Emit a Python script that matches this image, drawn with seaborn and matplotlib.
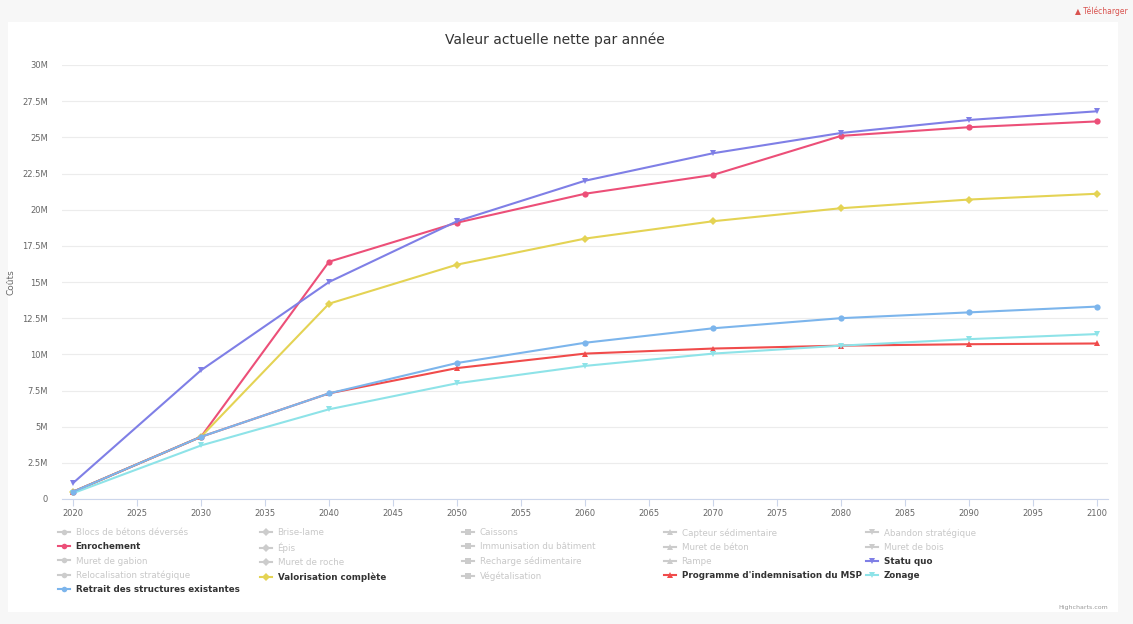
import pandas as pd
import matplotlib
matplotlib.use("Agg")
import matplotlib.pyplot as plt
import seaborn as sns
from matplotlib.lines import Line2D
from matplotlib.patches import Rectangle
from matplotlib.ticker import FuncFormatter, MultipleLocator

# Data (values in millions)
years = [2020, 2030, 2040, 2050, 2060, 2070, 2080, 2090, 2100]
enrochement = [0.5, 4.3, 16.4, 19.1, 21.1, 22.4, 25.1, 25.7, 26.1]
statu_quo = [1.1, 8.9, 15.0, 19.2, 22.0, 23.9, 25.3, 26.2, 26.8]
valorisation = [0.5, 4.3, 13.5, 16.2, 18.0, 19.2, 20.1, 20.7, 21.1]
programme_msp = [0.5, 4.3, 7.3, 9.05, 10.05, 10.4, 10.6, 10.7, 10.75]
zonage = [0.4, 3.7, 6.2, 8.0, 9.2, 10.05, 10.6, 11.05, 11.4]
retrait = [0.5, 4.3, 7.3, 9.4, 10.8, 11.8, 12.5, 12.9, 13.3]

# all legend entries, in Highcharts order (row by row, 5 columns)
legend_names = [
    "Blocs de bétons déversés", "Brise-lame", "Caissons", "Capteur sédimentaire", "Abandon stratégique",
    "Enrochement", "Épis", "Immunisation du bâtiment", "Muret de béton", "Muret de bois",
    "Muret de gabion", "Muret de roche", "Recharge sédimentaire", "Rampe", "Statu quo",
    "Relocalisation stratégique", "Valorisation complète", "Végétalisation",
    "Programme d'indemnisation du MSP", "Zonage",
    "Retrait des structures existantes",
]
visible = {
    "Enrochement": enrochement,
    "Statu quo": statu_quo,
    "Valorisation complète": valorisation,
    "Programme d'indemnisation du MSP": programme_msp,
    "Zonage": zonage,
    "Retrait des structures existantes": retrait,
}

hc_colors = ["#7cb5ec", "#434348", "#90ed7d", "#f7a35c", "#7f7fe6",
             "#ec4f78", "#e4d354", "#2b908f", "#f04b4b", "#8ee3e8"]
hc_markers = ["o", "D", "s", "^", "v"]

rows = []
for name, vals in visible.items():
    for y, v in zip(years, vals):
        rows.append({"Année": y, "Coûts": v, "Scénario": name})
df = pd.DataFrame(rows)

palette = {n: hc_colors[i % 10] for i, n in enumerate(legend_names) if n in visible}
markers = {n: hc_markers[i % 5] for i, n in enumerate(legend_names) if n in visible}

W, H = 1133, 624
fig = plt.figure(figsize=(W / 100, H / 100), dpi=100, facecolor="#f7f7f7")
fig.patches.append(Rectangle((8 / W, 1 - 612 / H), 1110 / W, 590 / H,
                             transform=fig.transFigure, facecolor="white",
                             edgecolor="none", zorder=-10))

ax = fig.add_axes([62 / W, 1 - 499 / H, 1046 / W, 434 / H])
ax.set_facecolor("white")

sns.lineplot(data=df, x="Année", y="Coûts", hue="Scénario", style="Scénario",
             palette=palette, markers=markers, dashes=False, linewidth=1.5,
             markersize=4.5, markeredgewidth=0, legend=False, ax=ax, zorder=3)

ax.set_xlim(2020 - 11 / 12.8, 2100 + 11 / 12.8)
ax.set_ylim(0, 30)
ax.xaxis.set_major_locator(MultipleLocator(5))
ax.yaxis.set_major_locator(MultipleLocator(2.5))
ax.yaxis.set_major_formatter(FuncFormatter(lambda v, p: "0" if v == 0 else f"{v:g}M"))
ax.grid(axis="y", color="#ececec", linewidth=0.8)
ax.grid(axis="x", visible=False)
for s in ["top", "right", "left"]:
    ax.spines[s].set_visible(False)
ax.spines["bottom"].set_color("#ccd6eb")
ax.tick_params(axis="y", length=0, pad=10, labelsize=6, labelcolor="#666666")
ax.tick_params(axis="x", length=5, color="#ccd6eb", pad=2, labelsize=6, labelcolor="#666666")
ax.set_xlabel("")
ax.set_ylabel("Coûts", fontsize=6.5, color="#666666", labelpad=5)

fig.text(555 / W, 1 - 40 / H, "Valeur actuelle nette par année", ha="center", va="center",
         fontsize=10, color="#333333")
fig.text(1128 / W, 1 - 11 / H, "▲ Télécharger", ha="right", va="center",
         fontsize=5.5, color="#d9534f")
fig.text(1108 / W, 1 - 608 / H, "Highcharts.com", ha="right", va="center",
         fontsize=4.5, color="#999999")

# legend: 5 fixed-width columns, row-wise fill
col_x = [58, 260, 462, 664, 866]
for c in range(5):
    names = legend_names[c::5]
    handles = []
    for n in names:
        i = legend_names.index(n)
        col = hc_colors[i % 10] if n in visible else "#cccccc"
        handles.append(Line2D([0], [0], color=col, lw=1.5, marker=hc_markers[i % 5],
                              markersize=4, markeredgewidth=0))
    leg = fig.legend(handles, names, loc="upper left",
                     bbox_to_anchor=(col_x[c] / W, 1 - 528 / H), frameon=False,
                     fontsize=6.3, handlelength=1.4, handletextpad=0.6,
                     labelspacing=0.6, borderpad=0, borderaxespad=0)
    for t, n in zip(leg.get_texts(), names):
        if n in visible:
            t.set_color("#333333")
            t.set_fontweight("bold")
        else:
            t.set_color("#c8c8c8")

fig.savefig("out.png", dpi=100, facecolor=fig.get_facecolor())
